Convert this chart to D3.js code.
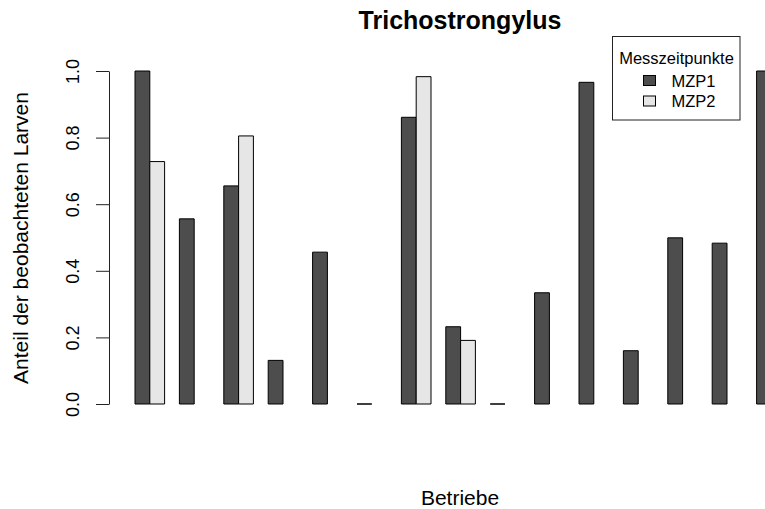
<!DOCTYPE html>
<html>
<head>
<meta charset="utf-8">
<script src="https://cdn.jsdelivr.net/npm/d3@7"></script>
<style>
  body { margin: 0; background: #fff; }
  text { font-family: "Liberation Sans", Arial, Helvetica, sans-serif; fill: #000; }
</style>
</head>
<body>
<div id="chart"></div>
<script>
// Betriebe (group labels are not printed in the original)
var betriebe = ["B1", "B2", "B3", "B4", "B5", "B6", "B7", "B8", "B9", "B10", "B11", "B12", "B13", "B14", "B15"];
var mzp1 = [1.0, 0.556, 0.655, 0.131, 0.456, 0, 0.861, 0.232, 0, 0.334, 0.966, 0.160, 0.499, 0.483, 1.0];
var mzp2 = [0.728, null, 0.805, null, null, null, 0.983, 0.191, null, null, null, null, null, null, null];
var seriesNames = ["MZP1", "MZP2"];
var seriesColors = ["#4d4d4d", "#e6e6e6"];
var yTicks = [0, 0.2, 0.4, 0.6, 0.8, 1.0];

var svgWidth = 765;
var svgHeight = 509;

var svg = d3.select("#chart")
  .append("svg")
  .attr("width", svgWidth)
  .attr("height", svgHeight);

// plot area (R style: bars start one bar-width after the axis)
var plotTop = 71, plotBottom = 404;

var yScale = d3.scaleLinear()
  .domain([0, 1])
  .range([plotBottom, plotTop]);

var xGroup = d3.scaleBand()
  .domain(betriebe)
  .range([135, 786.2])
  .paddingInner(1 / 3)
  .paddingOuter(0);

var xSeries = d3.scaleBand()
  .domain(seriesNames)
  .range([0, xGroup.bandwidth()]);

var color = d3.scaleOrdinal()
  .domain(seriesNames)
  .range(seriesColors);

// flatten data into bars, skipping missing values
var bars = [];
betriebe.forEach(function(b, i) {
  [mzp1, mzp2].forEach(function(series, s) {
    if (series[i] !== null) {
      bars.push({ betrieb: b, series: seriesNames[s], value: series[i] });
    }
  });
});

// bars as paths so that zero values still show as a line
svg.append("g")
  .selectAll("path")
  .data(bars)
  .enter()
  .append("path")
  .attr("d", function(d) {
    var x0 = xGroup(d.betrieb) + xSeries(d.series);
    var w = xSeries.bandwidth();
    var yTop = yScale(d.value);
    var yBase = yScale(0);
    return "M" + x0 + "," + yBase + "V" + yTop + "H" + (x0 + w) + "V" + yBase + "Z";
  })
  .attr("fill", function(d) { return color(d.series); })
  .attr("stroke", "#000")
  .attr("stroke-width", 1);

// y axis
var leftAxis = d3.axisLeft(yScale)
  .tickValues(yTicks)
  .tickSize(13)
  .tickSizeOuter(0)
  .tickFormat(d3.format(".1f"));

var yAxisGroup = svg.append("g")
  .attr("transform", "translate(109, 0)")
  .call(leftAxis);

yAxisGroup.selectAll("path, line").attr("stroke", "#222");
yAxisGroup.selectAll("text")
  .attr("font-size", 18)
  .attr("font-family", "Liberation Sans, Arial, sans-serif")
  .attr("fill", "#000")
  .attr("text-anchor", "middle")
  .attr("transform", "rotate(-90)")
  .attr("x", 0)
  .attr("y", -30)
  .attr("dy", 0);

// title
svg.append("text")
  .attr("x", 460)
  .attr("y", 29)
  .attr("text-anchor", "middle")
  .attr("font-size", 25)
  .attr("font-weight", "bold")
  .text("Trichostrongylus");

// axis titles
svg.append("text")
  .attr("transform", "translate(28, 238) rotate(-90)")
  .attr("text-anchor", "middle")
  .attr("font-size", 21)
  .text("Anteil der beobachteten Larven");

svg.append("text")
  .attr("x", 460)
  .attr("y", 505)
  .attr("text-anchor", "middle")
  .attr("font-size", 21)
  .text("Betriebe");

// legend
var legend = svg.append("g");

legend.append("rect")
  .attr("x", 612.5)
  .attr("y", 36.5)
  .attr("width", 127.5)
  .attr("height", 83.5)
  .attr("fill", "#fff")
  .attr("stroke", "#222");

legend.append("text")
  .attr("x", 676.5)
  .attr("y", 64)
  .attr("text-anchor", "middle")
  .attr("font-size", 16.5)
  .text("Messzeitpunkte");

var legendItems = legend.selectAll(".item")
  .data(seriesNames)
  .enter()
  .append("g")
  .attr("class", "item")
  .attr("transform", function(d, i) { return "translate(0," + (i * 20.5) + ")"; });

legendItems.append("rect")
  .attr("x", 643.5)
  .attr("y", 75.5)
  .attr("width", 12)
  .attr("height", 10)
  .attr("fill", function(d) { return color(d); })
  .attr("stroke", "#000");

legendItems.append("text")
  .attr("x", 671.5)
  .attr("y", 86.5)
  .attr("font-size", 16.5)
  .text(function(d) { return d; });
</script>
</body>
</html>
